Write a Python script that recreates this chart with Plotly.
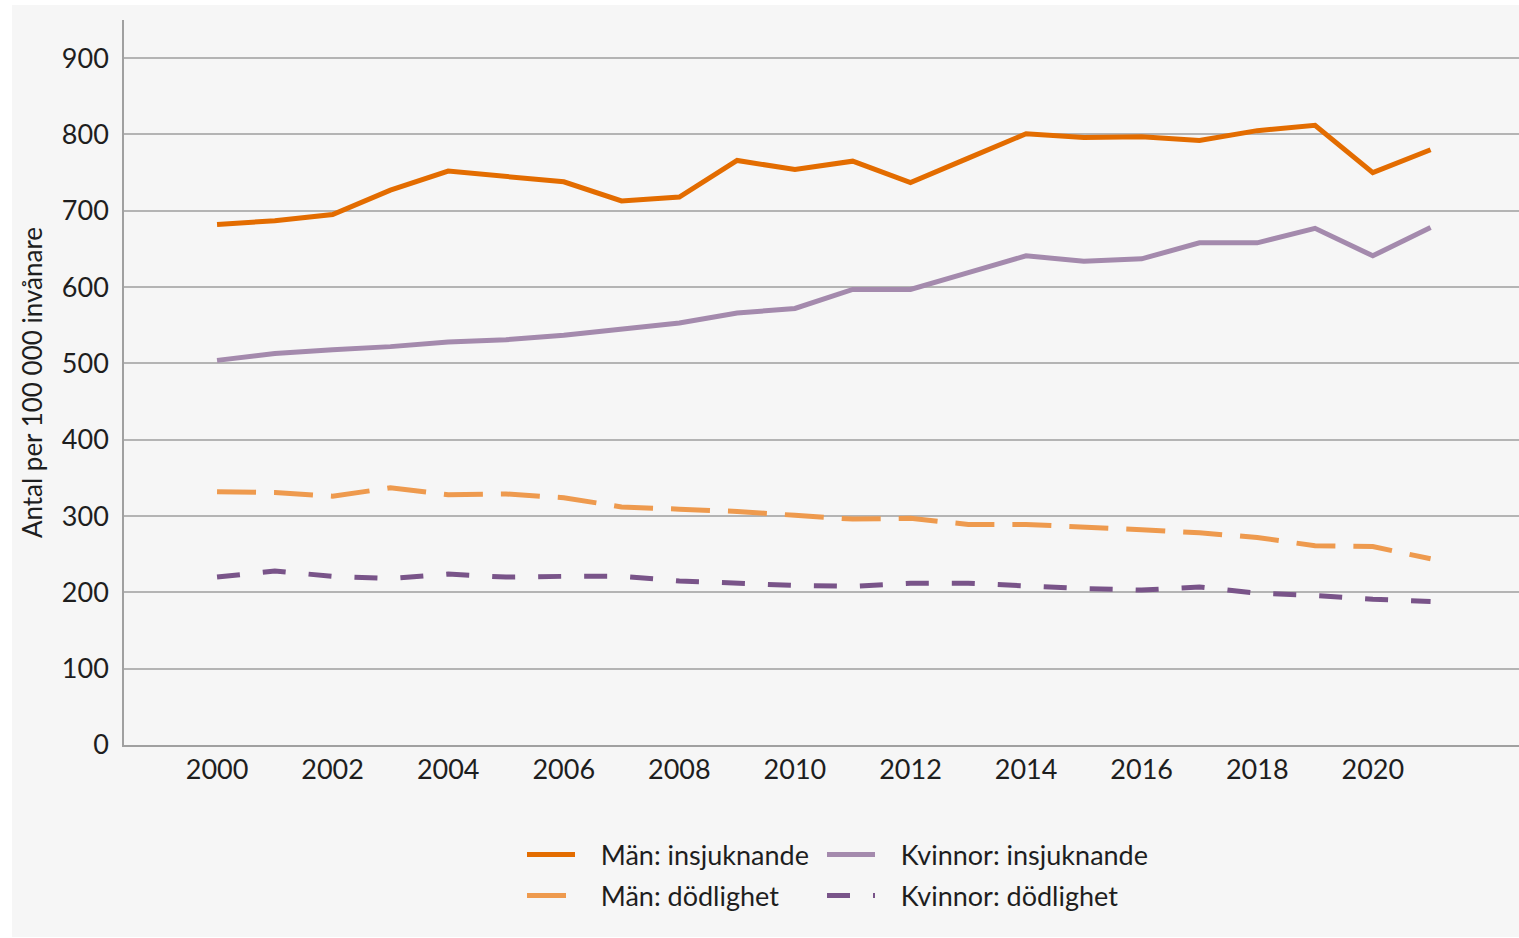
import plotly.graph_objects as go

years = list(range(2000, 2022))
man_insjuknande = [682, 687, 695, 727, 752, 745, 738, 713, 718, 766, 754, 765, 737, 769, 801, 796, 797, 792, 805, 812, 750, 780]
kvinnor_insjuknande = [504, 513, 518, 522, 528, 531, 537, 545, 553, 566, 572, 597, 597, 619, 641, 634, 637, 658, 658, 677, 641, 678]
man_dodlighet = [332, 331, 326, 337, 328, 329, 324, 312, 309, 306, 301, 296, 297, 289, 289, 286, 282, 278, 272, 261, 260, 244]
kvinnor_dodlighet = [220, 228, 221, 218, 224, 220, 221, 221, 215, 212, 209, 208, 212, 212, 208, 205, 203, 207, 199, 196, 191, 188]

y_ticks = [0, 100, 200, 300, 400, 500, 600, 700, 800, 900]
x_ticks = list(range(2000, 2021, 2))

FONT = "Lato"
TXT = "#1e1e1e"
PAD = "\u00a0\u00a0\u00a0"

fig = go.Figure()
fig.add_trace(go.Scatter(x=years, y=man_insjuknande, mode="lines", name=PAD + "Män: insjuknande",
                         line=dict(color="#e36c00", width=5), legend="legend"))
fig.add_trace(go.Scatter(x=years, y=kvinnor_insjuknande, mode="lines", name=PAD + "Kvinnor: insjuknande",
                         line=dict(color="#a48aad", width=5), legend="legend2"))
fig.add_trace(go.Scatter(x=years, y=man_dodlighet, mode="lines", name=PAD + "Män: dödlighet",
                         line=dict(color="#ee9a4e", width=5, dash="39px,18px"), legend="legend3"))
fig.add_trace(go.Scatter(x=years, y=kvinnor_dodlighet, mode="lines", name=PAD + "Kvinnor: dödlighet",
                         line=dict(color="#795489", width=5, dash="23px,23px"), legend="legend4"))

fig.add_shape(type="rect", xref="paper", yref="paper", x0=-0.0803, x1=1.0, y0=-0.2648, y1=1.0207,
              fillcolor="#f6f6f6", line=dict(width=0), layer="below")

legend_common = dict(orientation="h", xanchor="left", yanchor="middle",
                     font=dict(family=FONT, size=27, color=TXT),
                     bgcolor="rgba(0,0,0,0)", itemwidth=48, tracegroupgap=0)

LX1 = (522 - 124) / 1395
LX2 = (822 - 124) / 1395
LY1 = (745 - 855) / 725
LY2 = (745 - 896) / 725

fig.update_layout(
    width=1519, height=938,
    margin=dict(l=124, r=0, t=20, b=193),
    paper_bgcolor="white",
    plot_bgcolor="#f6f6f6",
    font=dict(family=FONT, size=27, color=TXT),
    showlegend=True,
    legend=dict(legend_common, x=LX1, y=LY1),
    legend2=dict(legend_common, x=LX2, y=LY1),
    legend3=dict(legend_common, x=LX1, y=LY2),
    legend4=dict(legend_common, x=LX2, y=LY2),
    xaxis=dict(range=[1998.39, 2022.53], tickvals=x_ticks, ticktext=[str(v) for v in x_ticks],
               showgrid=False, zeroline=False, showline=True, linecolor="#a0a0a0", linewidth=1.5,
               ticks="", tickfont=dict(family=FONT, size=27, color=TXT)),
    yaxis=dict(range=[0, 950], tickvals=y_ticks, showgrid=True, gridcolor="#b4b4b4", gridwidth=1.5,
               zeroline=False, showline=True, linecolor="#a0a0a0", linewidth=1.5, ticks="",
               ticklabelstandoff=8,
               tickfont=dict(family=FONT, size=27, color=TXT),
               title=dict(text="Antal per 100 000 invånare", font=dict(family=FONT, size=26, color=TXT),
                          standoff=12)),
)

fig.write_html("out.html", config={"displayModeBar": False},
               post_script="document.body.style.margin='0';document.body.style.overflow='hidden';")
